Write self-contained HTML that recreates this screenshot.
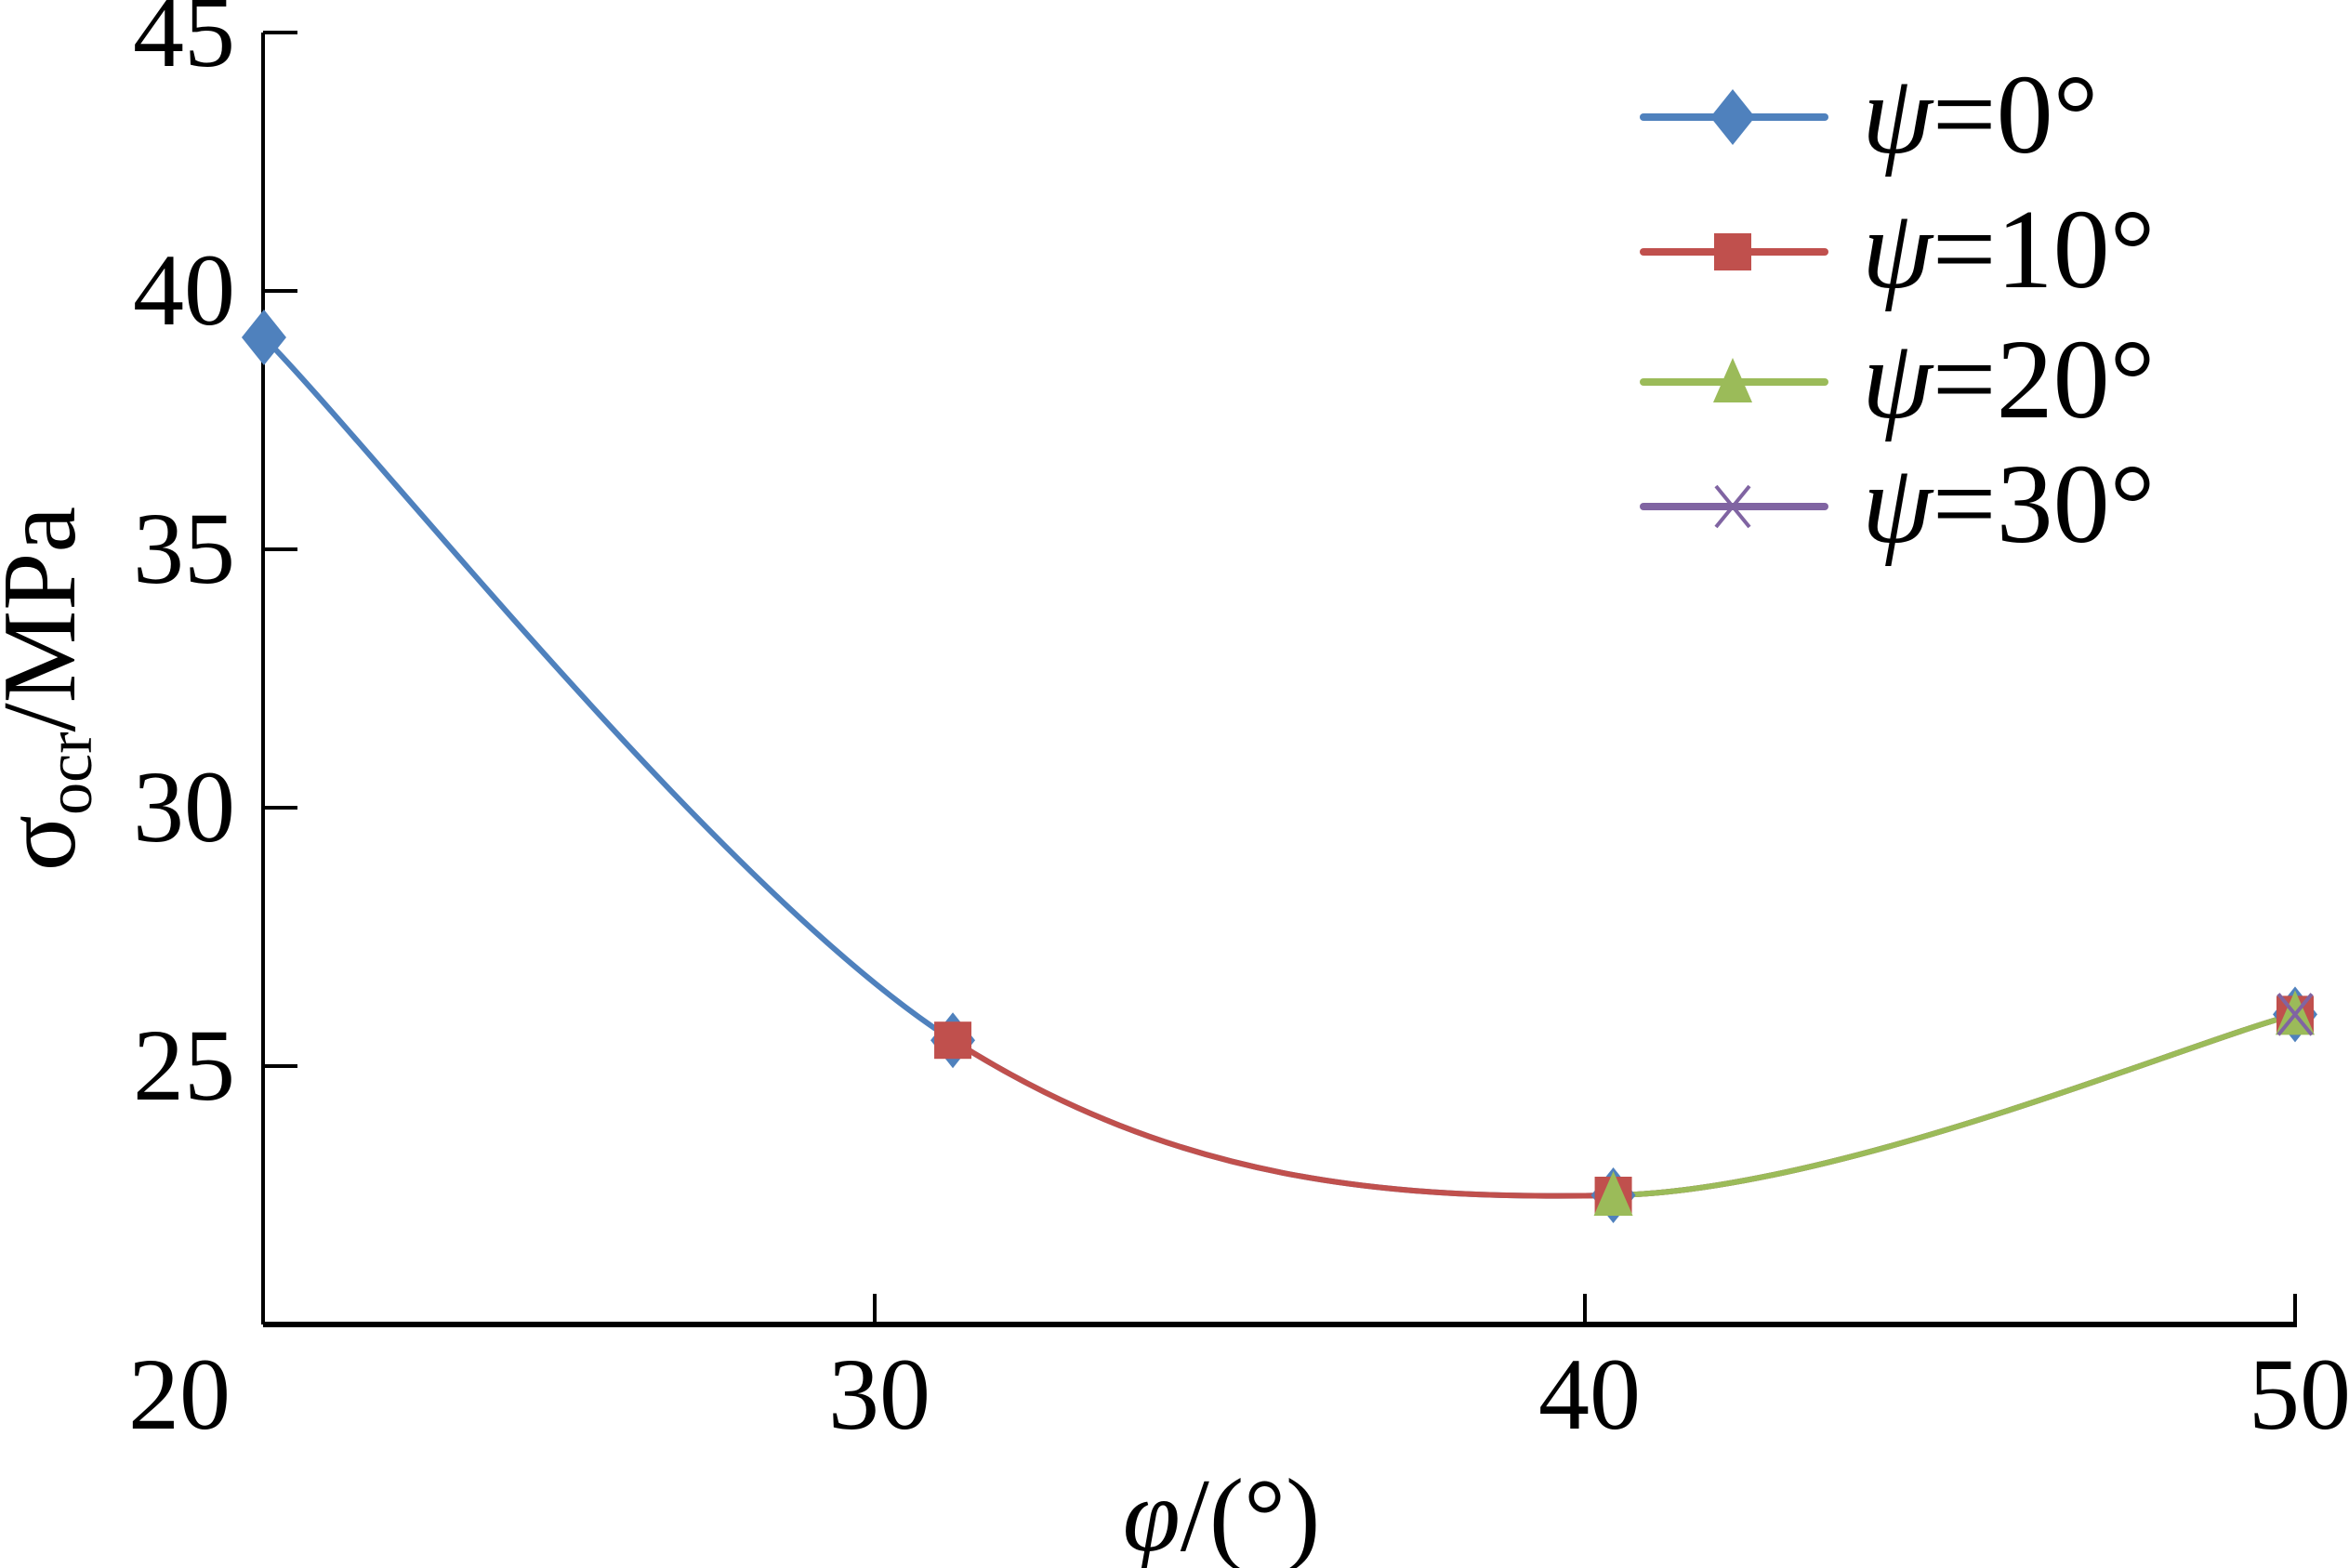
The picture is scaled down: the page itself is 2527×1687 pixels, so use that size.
<!DOCTYPE html>
<html><head><meta charset="utf-8"><style>
html,body{margin:0;padding:0;background:#fff;}
svg{display:block;}
svg text{font-family:"Liberation Serif","Times New Roman",serif;}
</style></head><body>
<svg id="chart" width="2527" height="1687" viewBox="0 0 2527 1687" font-family="Liberation Serif, serif">
<g id="axes"></g>
<g id="series"></g>
<g id="legend"></g>
<text x="0" y="0" transform="translate(80,741) rotate(-90)" text-anchor="middle" font-size="112">σ<tspan font-size="70" dy="18">ocr</tspan><tspan dy="-18">/MPa</tspan></text>
<text x="1314" y="1668" text-anchor="middle" font-size="112"><tspan font-style="italic">φ</tspan>/(°)</text>
</svg>
<script>
const xTicks = [20, 30, 40, 50];
const yTicks = [25, 30, 35, 40, 45];
const seriesNames = ["ψ=0°", "ψ=10°", "ψ=20°", "ψ=30°"];
const xPsi0 = [21.4, 31.1, 40.4, 50];
const yPsi0 = [39.1, 25.5, 22.5, 26.0];
const xPsi10 = [31.1, 40.4, 50];
const yPsi10 = [25.5, 22.5, 26.0];
const xPsi20 = [40.4, 50];
const yPsi20 = [22.5, 26.0];
const xPsi30 = [50];
const yPsi30 = [26.0];

const NS = "http://www.w3.org/2000/svg";
const X0 = 177, X1 = 2469, Y0 = 1425, Y1 = 35;
const xMin = 20, xMax = 50, yMin = 20, yMax = 45;
function sx(v){ return X0 + (v - xMin) / (xMax - xMin) * (X1 - X0); }
function sy(v){ return Y0 - (v - yMin) / (yMax - yMin) * (Y0 - Y1); }
function mk(tag, attrs, parent){ const e = document.createElementNS(NS, tag); for (const k in attrs) e.setAttribute(k, attrs[k]); parent.appendChild(e); return e; }

const axes = document.getElementById("axes");
const AX = 283;
let yl = mk("line", {x1: AX, y1: Y1, x2: AX, y2: Y0, stroke: "#000", "stroke-width": 4}, axes);


let xl = mk("line", {x1: AX, y1: Y0, x2: X1 + 2, y2: Y0, stroke: "#000", "stroke-width": 6}, axes);


yTicks.forEach(v => {
  const t = mk("line", {x1: AX, y1: sy(v), x2: AX + 37, y2: sy(v), stroke: "#000", "stroke-width": 4}, axes);
  
  
  const l = mk("text", {x: 253, y: sy(v) + 36, "text-anchor": "end", "font-size": 110}, axes);
  l.textContent = v;
  
  
});
xTicks.forEach(v => {
  if (v > xMin) {
    const t = mk("line", {x1: sx(v), y1: Y0, x2: sx(v), y2: Y0 - 33, stroke: "#000", "stroke-width": 4}, axes);
    
    
  }
  const l = mk("text", {x: v === xMin ? 193 : sx(v) + 5, y: 1537, "text-anchor": "middle", "font-size": 110}, axes);
  l.textContent = v;
  
  
});

const colors = ["#4F81BD", "#C0504D", "#9BBB59", "#8064A2"];
const markers = ["diamond", "square", "triangle", "cross"];
const seriesX = [xPsi0, xPsi10, xPsi20, xPsi30];
const seriesY = [yPsi0, yPsi10, yPsi20, yPsi30];

// shared smooth curve through the union of all series points (series overlap)
const allPts = [];
seriesX.forEach((xs, s) => xs.forEach((x, i) => { if (!allPts.some(p => p[0] === x)) allPts.push([x, seriesY[s][i]]); }));
allPts.sort((a, b) => a[0] - b[0]);
function pathFor(xs, ys){
  if (xs.length < 2) return "";
  const P = allPts.map(p => [sx(p[0]), sy(p[1])]);
  const lo = xs[0], hi = xs[xs.length - 1];
  let d = "";
  for (let i = 0; i < P.length - 1; i++) {
    if (allPts[i][0] < lo || allPts[i + 1][0] > hi) continue;
    const a = P[Math.max(0, i - 1)], b = P[i], c = P[i + 1], e = P[Math.min(P.length - 1, i + 2)];
    const t = 1 / 6;
    const c1 = [b[0] + (c[0] - a[0]) * t, b[1] + (c[1] - a[1]) * t];
    const c2 = [c[0] - (e[0] - b[0]) * t, c[1] - (e[1] - b[1]) * t];
    if (!d) d = "M" + b[0] + "," + b[1];
    d += " C" + c1[0] + "," + c1[1] + " " + c2[0] + "," + c2[1] + " " + c[0] + "," + c[1];
  }
  return d;
}
function marker(kind, x, y, col, parent){
  let m;
  if (kind === "diamond") m = mk("polygon", {points: `${x},${y-30} ${x+24},${y} ${x},${y+30} ${x-24},${y}`, fill: col}, parent);
  else if (kind === "square") m = mk("rect", {x: x - 20, y: y - 20, width: 40, height: 40, fill: col}, parent);
  else if (kind === "triangle") m = mk("polygon", {points: `${x},${y-26} ${x+21},${y+22} ${x-21},${y+22}`, fill: col}, parent);
  else { m = mk("path", {d: `M${x-18},${y-22} L${x+18},${y+22} M${x-18},${y+22} L${x+18},${y-22}`, stroke: col, "stroke-width": 4, fill: "none"}, parent); }
  return m;
}
const sg = document.getElementById("series");
seriesX.forEach((xs, s) => {
  const g = mk("g", {}, sg);
  
  
  const d = pathFor(xs, seriesY[s]);
  if (d) {
    const p = mk("path", {d: d, fill: "none", stroke: colors[s], "stroke-width": 6}, g);
    
    
  }
});
seriesX.forEach((xs, s) => {
  xs.forEach((x, i) => {
    const m = marker(markers[s], sx(x), sy(seriesY[s][i]), colors[s], sg);
    
    
  });
});

const lg = document.getElementById("legend");
const rowsY = [126, 271, 411, 545];
seriesNames.forEach((n, s) => {
  const g = mk("g", {}, lg);
  
  
  const y = rowsY[s];
  const l = mk("line", {x1: 1768, y1: y, x2: 1963, y2: y, stroke: colors[s], "stroke-width": 8, "stroke-linecap": "round"}, g);
  
  
  const m = marker(markers[s], 1864, y, colors[s], g);
  
  
  const t = mk("text", {x: 2003, y: y + 38, "font-size": 122}, g);
  
  
  const ts = document.createElementNS(NS, "tspan");
  ts.setAttribute("font-style", "italic");
  ts.textContent = "ψ";
  t.appendChild(ts);
  t.appendChild(document.createTextNode(n.slice(1)));
});
</script>
</body></html>
